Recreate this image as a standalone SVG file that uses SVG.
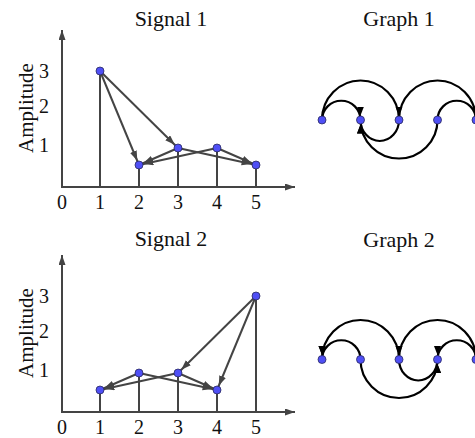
<svg xmlns="http://www.w3.org/2000/svg" width="475" height="438" viewBox="0 0 475 438">
<defs>
<style>
text{font-family:"Liberation Serif","Times New Roman",serif;fill:#111}
.title{font-size:22px;text-anchor:middle}
.tick{font-size:20px;text-anchor:middle}
.amp{font-size:21px;text-anchor:middle}
.axis{stroke:#444;stroke-width:2;fill:none}
.stem{stroke:#444;stroke-width:2}
.sedge{stroke:#444;stroke-width:2;fill:none;marker-end:url(#sarr)}
.gedge{stroke:#000;stroke-width:2.2;fill:none;marker-end:url(#garr)}
.node{fill:#4f4ff5;stroke:#2a2a60;stroke-width:0.8}
</style>
<marker id="axarr" markerUnits="userSpaceOnUse" markerWidth="12" markerHeight="8" refX="10" refY="3.5" orient="auto"><path d="M0,0 L10,3.5 L0,7 z" fill="#444"/></marker>
<marker id="sarr" markerUnits="userSpaceOnUse" markerWidth="16" markerHeight="8" refX="14.5" refY="3.5" orient="auto"><path d="M0,0 L10,3.5 L0,7 z" fill="#444"/></marker>
<marker id="garr" markerUnits="userSpaceOnUse" markerWidth="16" markerHeight="8" refX="13.5" refY="3.5" orient="auto"><path d="M0,0 L9,3.5 L0,7 z" fill="#000"/></marker>
</defs>

<!-- Signal 1 -->
<g id="signal1">
<text class="title" x="171" y="26">Signal 1</text>
<line class="axis" x1="62" y1="187" x2="62" y2="30" marker-end="url(#axarr)"/>
<line class="axis" x1="61" y1="187" x2="295" y2="187" marker-end="url(#axarr)"/>
<text class="tick" x="62" y="209">0</text>
<text class="tick" x="100" y="209">1</text>
<text class="tick" x="139" y="209">2</text>
<text class="tick" x="178" y="209">3</text>
<text class="tick" x="217" y="209">4</text>
<text class="tick" x="256" y="209">5</text>
<text class="tick" x="44" y="78">3</text>
<text class="tick" x="44" y="113">2</text>
<text class="tick" x="44" y="152">1</text>
<text class="amp" transform="translate(33,108) rotate(-90)">Amplitude</text>
<line class="stem" x1="100" y1="71" x2="100" y2="187"/>
<line class="stem" x1="139" y1="165" x2="139" y2="187"/>
<line class="stem" x1="178" y1="148" x2="178" y2="187"/>
<line class="stem" x1="217" y1="148" x2="217" y2="187"/>
<line class="stem" x1="256" y1="165" x2="256" y2="187"/>
</g>
<g id="signal1-edges">
<line class="sedge" x1="100" y1="71" x2="139" y2="165"/>
<line class="sedge" x1="100" y1="71" x2="178" y2="148"/>
<line class="sedge" x1="178" y1="148" x2="139" y2="165"/>
<line class="sedge" x1="217" y1="148" x2="139" y2="165"/>
<line class="sedge" x1="178" y1="148" x2="256" y2="165"/>
<line class="sedge" x1="217" y1="148" x2="256" y2="165"/>
</g>
<g id="signal1-points">
<circle class="node" cx="100" cy="71" r="4"/>
<circle class="node" cx="139" cy="165" r="4"/>
<circle class="node" cx="178" cy="148" r="4"/>
<circle class="node" cx="217" cy="148" r="4"/>
<circle class="node" cx="256" cy="165" r="4"/>
</g>

<!-- Graph 1 -->
<text class="title" x="399" y="26">Graph 1</text>
<g id="graph1-edges">
<path class="gedge" d="M322,120 A19.25,19.25 0 0 1 360.5,120"/>
<path class="gedge" d="M322,120 A38.5,39.5 0 0 1 399,120"/>
<path class="gedge" d="M399,120 A38.5,39.5 0 0 1 476,120"/>
<path class="gedge" d="M437.5,120 A19.25,19.25 0 0 1 476,120"/>
<path class="gedge" d="M399,120 A19.25,21 0 0 1 360.5,120"/>
<path class="gedge" d="M437.5,120 A38.5,38.5 0 0 1 360.5,120"/>
</g>
<g id="g1n1"><circle class="node" cx="322" cy="120" r="4"/></g>
<g id="g1n2"><circle class="node" cx="360.5" cy="120" r="4"/></g>
<g id="g1n3"><circle class="node" cx="399" cy="120" r="4"/></g>
<g id="g1n4"><circle class="node" cx="437.5" cy="120" r="4"/></g>
<g id="g1n5"><circle class="node" cx="476" cy="120" r="4"/></g>

<!-- Signal 2 -->
<g id="signal2">
<text class="title" x="171" y="246">Signal 2</text>
<line class="axis" x1="62" y1="412" x2="62" y2="255" marker-end="url(#axarr)"/>
<line class="axis" x1="61" y1="412" x2="295" y2="412" marker-end="url(#axarr)"/>
<text class="tick" x="62" y="434">0</text>
<text class="tick" x="100" y="434">1</text>
<text class="tick" x="139" y="434">2</text>
<text class="tick" x="178" y="434">3</text>
<text class="tick" x="217" y="434">4</text>
<text class="tick" x="256" y="434">5</text>
<text class="tick" x="44" y="303">3</text>
<text class="tick" x="44" y="338">2</text>
<text class="tick" x="44" y="377">1</text>
<text class="amp" transform="translate(33,333) rotate(-90)">Amplitude</text>
<line class="stem" x1="100" y1="390" x2="100" y2="412"/>
<line class="stem" x1="139" y1="373" x2="139" y2="412"/>
<line class="stem" x1="178" y1="373" x2="178" y2="412"/>
<line class="stem" x1="217" y1="390" x2="217" y2="412"/>
<line class="stem" x1="256" y1="296" x2="256" y2="412"/>
</g>
<g id="signal2-edges">
<line class="sedge" x1="139" y1="373" x2="100" y2="390"/>
<line class="sedge" x1="178" y1="373" x2="100" y2="390"/>
<line class="sedge" x1="139" y1="373" x2="217" y2="390"/>
<line class="sedge" x1="178" y1="373" x2="217" y2="390"/>
<line class="sedge" x1="256" y1="296" x2="178" y2="373"/>
<line class="sedge" x1="256" y1="296" x2="217" y2="390"/>
</g>
<g id="signal2-points">
<circle class="node" cx="100" cy="390" r="4"/>
<circle class="node" cx="139" cy="373" r="4"/>
<circle class="node" cx="178" cy="373" r="4"/>
<circle class="node" cx="217" cy="390" r="4"/>
<circle class="node" cx="256" cy="296" r="4"/>
</g>

<!-- Graph 2 -->
<text class="title" x="399" y="247">Graph 2</text>
<g id="graph2-edges">
<path class="gedge" d="M360.5,359.5 A19.25,19.25 0 0 0 322,359.5"/>
<path class="gedge" d="M399,359.5 A38.5,39.5 0 0 0 322,359.5"/>
<path class="gedge" d="M476,359.5 A38.5,39.5 0 0 0 399,359.5"/>
<path class="gedge" d="M476,359.5 A19.25,19.25 0 0 0 437.5,359.5"/>
<path class="gedge" d="M399,359.5 A19.25,21 0 0 0 437.5,359.5"/>
<path class="gedge" d="M360.5,359.5 A38.5,38.5 0 0 0 437.5,359.5"/>
</g>
<g id="g2n1"><circle class="node" cx="322" cy="359.5" r="4"/></g>
<g id="g2n2"><circle class="node" cx="360.5" cy="359.5" r="4"/></g>
<g id="g2n3"><circle class="node" cx="399" cy="359.5" r="4"/></g>
<g id="g2n4"><circle class="node" cx="437.5" cy="359.5" r="4"/></g>
<g id="g2n5"><circle class="node" cx="476" cy="359.5" r="4"/></g>
</svg>
